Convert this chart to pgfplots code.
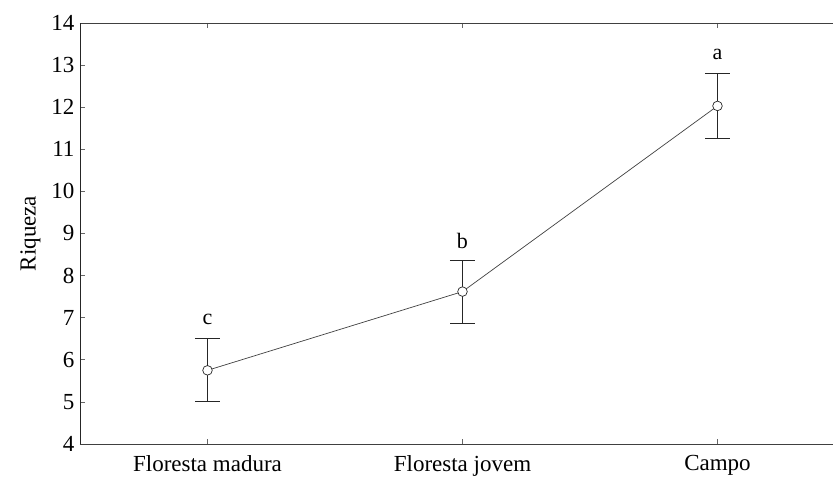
\documentclass[border=0pt]{standalone}
\usepackage{pgfplots}
\pgfplotsset{compat=1.18}
\usepackage{fontspec}
\setmainfont{Liberation Serif}
\begin{document}
\begin{tikzpicture}
\begin{axis}[
  scale only axis,
  width=753pt, height=421pt,
  xmin=-0.5, xmax=2.453,
  ymin=4, ymax=14,
  ytick={4,5,...,14},
  xtick={0,1,2},
  xticklabels={Floresta madura,Floresta jovem,Campo},
  axis x line=box,
  axis y line=left,
  x axis line style={-, draw=black!75},
  y axis line style={-, draw=black!85},
  tick style={draw=black!60, line width=0.6pt},
  major tick length=5pt,
  tick align=inside,
  ticklabel style={font=\fontsize{23}{26}\selectfont},
  /pgf/number format/assume math mode=true,
  yticklabel style={xshift=-2pt},
  xticklabel style={yshift=-8pt},
  ylabel={Riqueza},
  ylabel style={font=\fontsize{23}{26}\selectfont, yshift=4pt},
  clip=false,
]
\addplot[
  draw=black!75, line width=0.7pt,
  mark=*, mark size=4.8pt,
  mark options={fill=white, draw=black!85, line width=0.7pt},
  error bars/.cd, y dir=both, y explicit,
  error bar style={draw=black!85, line width=0.8pt},
  error mark options={rotate=90, mark size=12.5pt, draw=black!85, line width=0.8pt},
] coordinates {
  (0,5.75) +- (0,0.75)
  (1,7.62) +- (0,0.75)
  (2,12.03) +- (0,0.77)
};
\node[font=\fontsize{22}{26}\selectfont] at (axis cs:0,6.95) {c};
\node[font=\fontsize{22}{26}\selectfont] at (axis cs:1,8.82) {b};
\node[font=\fontsize{22}{26}\selectfont] at (axis cs:2,13.25) {a};
\end{axis}
\pgfresetboundingbox
\path[use as bounding box] (-80pt,-35pt) rectangle (753pt,444pt);
\end{tikzpicture}
\end{document}
